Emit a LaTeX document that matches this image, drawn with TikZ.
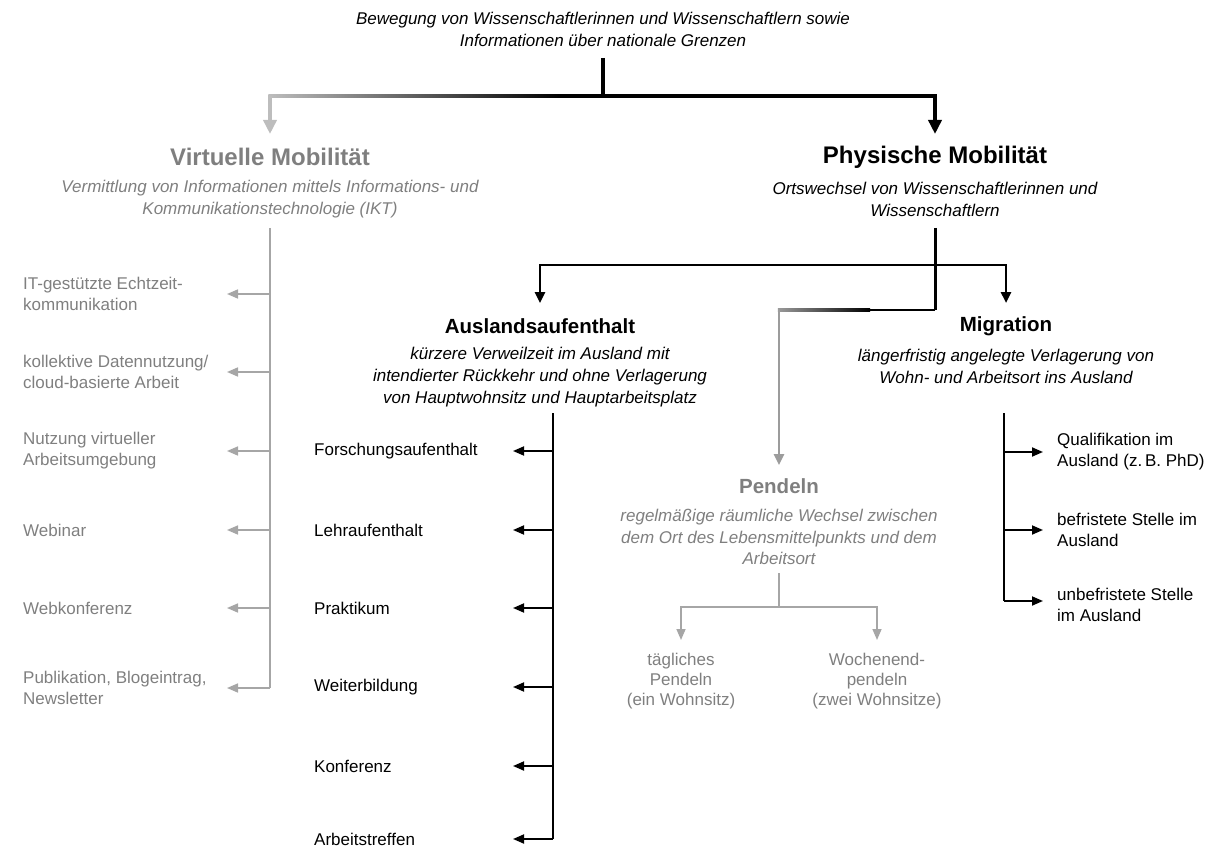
\documentclass[tikz,border=0pt]{standalone}
\usepackage{fontspec}
\setmainfont{Liberation Sans}
\usetikzlibrary{arrows.meta}
\definecolor{tgray}{HTML}{7F7F7F}
\definecolor{lgray}{HTML}{A6A6A6}
\definecolor{ggray}{HTML}{BDBDBD}
\definecolor{pgray}{HTML}{9A9A9A}
\begin{document}
\begin{tikzpicture}[x=1pt,y=-1pt,
  every node/.style={inner sep=0pt, align=center},
  desc/.style={font=\fontsize{17}{22}\selectfont\itshape},
  big/.style={font=\fontsize{24}{28}\selectfont\bfseries},
  mid/.style={font=\fontsize{20.5}{24}\selectfont\bfseries},
  item/.style={font=\fontsize{17}{21}\selectfont, align=left, anchor=west},
  small/.style={font=\fontsize{17}{20}\selectfont},
  garr/.style={draw=lgray, line width=1.6pt, -{Triangle[length=11pt,width=9pt]}},
  barr/.style={draw=black, line width=1.8pt, -{Triangle[length=11pt,width=9pt]}},
  gline/.style={draw=lgray, line width=1.8pt},
  bline/.style={draw=black, line width=2pt},
  bigtip/.style={-{Triangle[length=14pt,width=13pt]}},
]
\useasboundingbox (0,0) rectangle (1212,850);

% ---------- texts ----------
\node[desc] (top) at (603,29.5) {Bewegung von Wissenschaftlerinnen und Wissenschaftlern sowie\\Informationen über nationale Grenzen};

\node[big, text=tgray] (vt) at (270,157) {Virtuelle Mobilität};
\node[desc, text=tgray] (vs) at (270,199.5) {Vermittlung von Informationen mittels Informations- und\\Kommunikationstechnologie (IKT)};

\node[big] (pt) at (935,157) {Physische Mobilität};
\node[desc] (ps) at (935,199.5) {Ortswechsel von Wissenschaftlerinnen und\\Wissenschaftlern};

\node[mid] (at) at (540,326) {Auslandsaufenthalt};
\node[desc] (as) at (540,377) {kürzere Verweilzeit im Ausland mit\\intendierter Rückkehr und ohne Verlagerung\\von Hauptwohnsitz und Hauptarbeitsplatz};

\node[mid] (mt) at (1006,326) {Migration};
\node[desc] (ms) at (1006,366) {längerfristig angelegte Verlagerung von\\Wohn- und Arbeitsort ins Ausland};

\node[mid, text=tgray] (pe) at (779,486) {Pendeln};
\node[desc, text=tgray, font=\fontsize{17}{21.5}\selectfont\itshape] (pes) at (779,537) {regelmäßige räumliche Wechsel zwischen\\dem Ort des Lebensmittelpunkts und dem\\Arbeitsort};

\node[small, text=tgray] (pa) at (681,681) {tägliches\\Pendeln\\(ein Wohnsitz)};
\node[small, text=tgray] (pb) at (877,681) {Wochenend-\\pendeln\\(zwei Wohnsitze)};

% virtual items
\node[item, text=tgray] (v1) at (23,294) {IT-gestützte Echtzeit-\\kommunikation};
\node[item, text=tgray] (v2) at (23,372) {kollektive Datennutzung/\\cloud-basierte Arbeit};
\node[item, text=tgray] (v3) at (23,451) {Nutzung virtueller\\Arbeitsumgebung};
\node[item, text=tgray] (v4) at (23,530) {Webinar};
\node[item, text=tgray] (v5) at (23,608) {Webkonferenz};
\node[item, text=tgray] (v6) at (23,688) {Publikation, Blogeintrag,\\Newsletter};

% Auslandsaufenthalt items
\node[item] (a1) at (314,451) {Forschungsaufenthalt};
\node[item] (a2) at (314,530) {Lehraufenthalt};
\node[item] (a3) at (314,608) {Praktikum};
\node[item] (a4) at (314,687) {Weiterbildung};
\node[item] (a5) at (314,766) {Konferenz};
\node[item] (a6) at (314,839) {Arbeitstreffen};

% Migration items
\node[item] (m1) at (1057,452) {Qualifikation im\\Ausland (z.\,B. PhD)};
\node[item] (m2) at (1057,530) {befristete Stelle im\\Ausland};
\node[item] (m3) at (1057,605) {unbefristete Stelle\\im Ausland};

% ---------- coordinates ----------
\coordinate (t0) at (603,58);
\coordinate (t1) at (603,96);
\coordinate (tl) at (270,96);
\coordinate (tg) at (560,96);
\coordinate (tr) at (935,96);
\coordinate (vtin) at (270,134);
\coordinate (ptin) at (935,134);

\coordinate (p0) at (935,228);
\coordinate (pj) at (935,265);
\coordinate (pl) at (540,265);
\coordinate (pr) at (1006,265);
\coordinate (ain) at (540,303);
\coordinate (min) at (1006,303);
\coordinate (pk) at (935,310);
\coordinate (pg) at (870,310);
\coordinate (pm) at (779,310);
\coordinate (pein) at (779,465);

\coordinate (v0) at (270,228);
\coordinate (vtip) at (227,0);
\coordinate (a0) at (553,413);
\coordinate (atip) at (513,0);
\coordinate (m0) at (1004,413);
\coordinate (mtip) at (1043,0);
\coordinate (mend) at (1004,601);

\coordinate (q0) at (779,573);
\coordinate (q1) at (779,607);
\coordinate (ql) at (681,607);
\coordinate (qr) at (877,607);
\coordinate (qain) at (681,640);
\coordinate (qbin) at (877,640);

% ---------- top connectors ----------
\draw[line width=4pt] (t0) -- (t1);
\shade[left color=ggray, right color=black] (268.25,94.25) rectangle (560,97.75);
\draw[line width=3.5pt, bigtip] (tg) -- (tr) -- (ptin);
\draw[draw=ggray, line width=3.5pt, bigtip, fill=ggray] (tl) -- (vtin);

% ---------- physische ----------
\draw[line width=3pt] (p0) -- (pk);
\draw[line width=2.5pt, -{Triangle[length=11pt,width=10pt]}] (pj) -| (ain);
\draw[line width=2.5pt, -{Triangle[length=11pt,width=10pt]}] (pj) -| (min);
\draw[line width=2.5pt] (pk) -- (pg);
\shade[left color=pgray, right color=black] (777.75,308.75) rectangle (870,311.25);
\draw[draw=pgray!80!lgray, line width=2.5pt, -{Triangle[length=11pt,width=10pt]}] (pm) -- (pein);

% ---------- virtual ----------
\draw[gline] (v0) -- (v0 |- v6.west);
\foreach \n in {v1,v2,v3,v4,v5,v6}
  \draw[garr] (v0 |- \n.west) -- (vtip |- \n.west);

% ---------- Auslandsaufenthalt ----------
\draw[bline] (a0) -- (a0 |- a6.west);
\foreach \n in {a1,a2,a3,a4,a5,a6}
  \draw[barr] (a0 |- \n.west) -- (atip |- \n.west);

% ---------- Migration ----------
\draw[bline] (m0) -- (mend);
\draw[barr] (m0 |- m1.west) -- (mtip |- m1.west);
\draw[barr] (m0 |- m2.west) -- (mtip |- m2.west);
\draw[barr] (mend) -- (mtip |- mend);

% ---------- Pendeln ----------
\draw[gline] (q0) -- (q1);
\draw[garr] (q1) -| (qain);
\draw[garr] (q1) -| (qbin);
\end{tikzpicture}
\end{document}
